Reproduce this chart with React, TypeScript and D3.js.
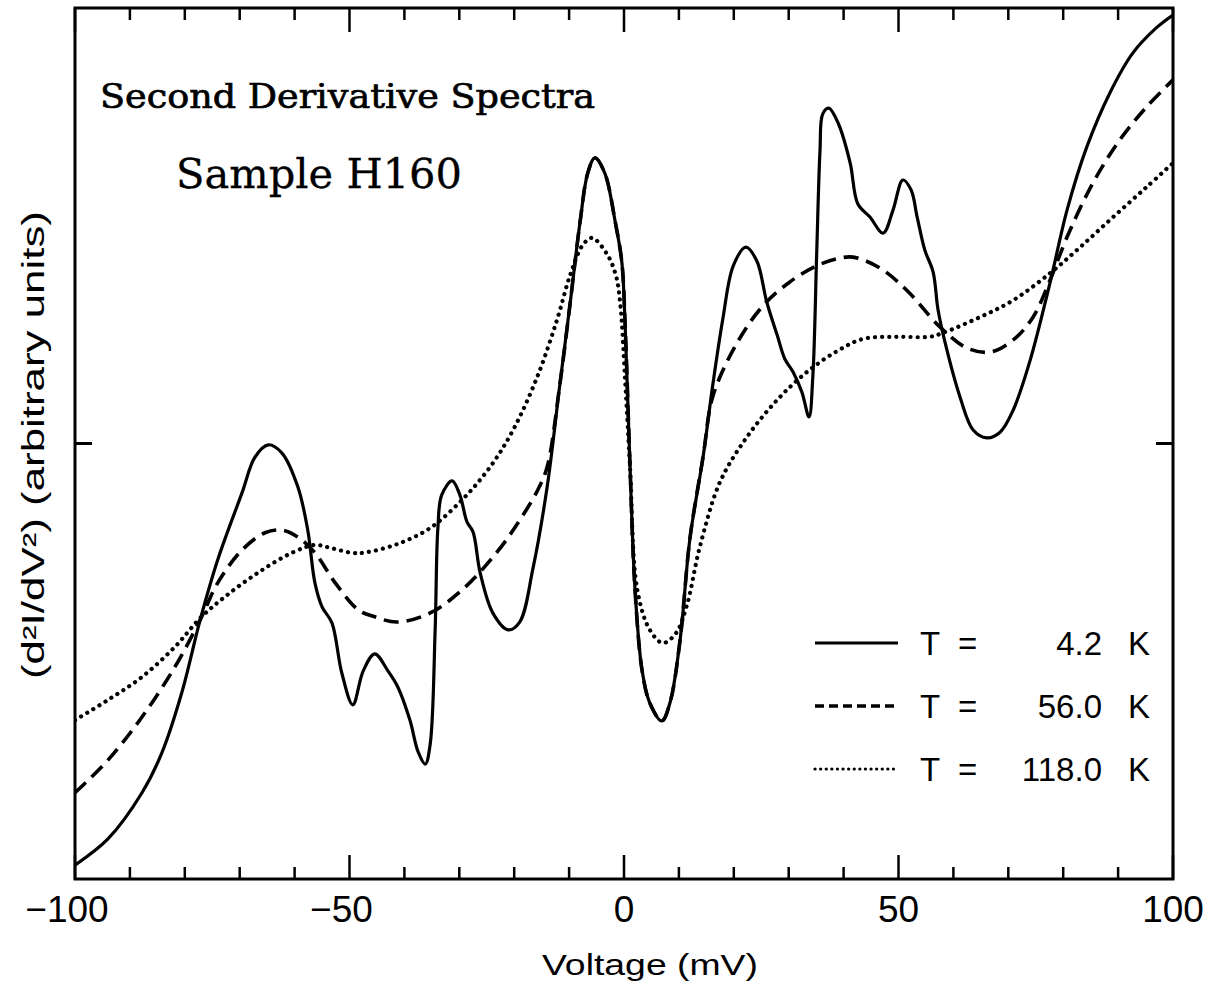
import React from 'react';
import * as d3 from 'd3';

// ---- Data (voltage in mV, d2I/dV2 in arbitrary units) ----
const solidV = [-100, -94, -87.8, -84.2, -80.5, -77.2, -74, -69.6, -67.2, -64.8, -62.3, -59.4, -57.6, -56.3, -55, -53.2, -51.4, -49.4, -47.5, -45.4, -43, -41.2, -39, -37.5, -36.2, -35.3, -34.4, -33.9, -33.2, -31.3, -29.9, -28.6, -27.5, -26.2, -23.9, -21.1, -19, -16.6, -14, -11.7, -9.8, -8, -6.6, -5.3, -3.5, -1.6, -0.4, 0.2, 1.1, 2, 3.3, 4.7, 6.9, 8.4, 10.2, 12, 14.4, 16.2, 18, 19.9, 22.2, 24.2, 26, 27.9, 29.3, 30.8, 32.4, 33.7, 34.4, 35.1, 35.7, 36.2, 37.3, 39, 41.2, 42.6, 44.8, 47.2, 49, 50.8, 52.3, 53.4, 54.8, 56.3, 57.2, 58.5, 61.2, 63.6, 66.1, 68.5, 70.9, 74, 77.6, 80.7, 84.3, 88.5, 92.7, 97.1, 100];
const solidY = [-96.8, -90.8, -80.2, -71.1, -57.0, -40.5, -26.7, -11.4, -3.1, -0.3, -2.2, -10.0, -19.9, -32.0, -37.5, -41.2, -52.7, -60.0, -52.2, -48.3, -52.2, -55.9, -63.5, -70.8, -73.6, -69.0, -42.8, -19.4, -11.8, -8.6, -11.8, -18.0, -20.3, -29.7, -38.9, -42.8, -41.0, -28.8, -10.0, 13.4, 32.3, 50.9, 62.1, 65.6, 62.1, 50.9, 41.7, 27.4, -5.4, -33.4, -52.2, -59.6, -63.7, -59.4, -45.3, -21.9, -3.1, 13.7, 28.6, 40.8, 45.1, 41.9, 32.5, 24.9, 19.4, 16.4, 11.8, 6.1, 15.5, 43.7, 67.2, 75.7, 77.0, 73.6, 64.4, 55.0, 52.0, 48.3, 53.6, 60.5, 58.2, 52.0, 44.4, 39.4, 30.7, 23.1, 10.7, 3.1, 1.3, 2.6, 7.7, 19.2, 36.9, 53.6, 68.1, 80.5, 89.7, 95.6, 98.4];

const dashedV = [-100, -94, -87.8, -81.8, -77.2, -74, -69.6, -65.4, -62.3, -59.4, -56.3, -52.6, -48.4, -45.4, -41.3, -35.3, -29.3, -23.1, -19, -15.8, -14, -11.7, -9.8, -8, -6.6, -5.3, -3.5, -1.6, -0.4, 0.2, 1.1, 2, 3.3, 4.7, 6.9, 8.4, 10.2, 12, 14.4, 16.2, 20.6, 25.3, 30.2, 35.1, 38.8, 41.7, 46.6, 51.5, 57.6, 62.5, 66.7, 70.9, 74.5, 77.6, 80.7, 85.4, 90.3, 95.2, 100];
const dashedY = [-80.2, -72.7, -62.8, -51.3, -40.5, -32.0, -24.5, -20.5, -19.9, -21.5, -25.1, -32.0, -38.2, -39.8, -41.0, -38.9, -33.4, -24.9, -17.6, -10.9, -5.4, 13.4, 32.3, 50.9, 62.1, 65.6, 62.1, 50.9, 41.7, 27.4, -5.4, -33.4, -52.2, -59.6, -63.7, -59.4, -45.3, -21.9, -3.1, 10.9, 23.1, 31.6, 37.1, 40.8, 42.4, 42.8, 40.3, 35.2, 26.7, 21.9, 21.0, 23.8, 29.0, 37.5, 47.4, 59.8, 69.7, 77.3, 83.5];

const dottedV = [-100, -94, -87.8, -81.8, -77.2, -72.7, -66.7, -60.5, -56.3, -54, -49.6, -47.5, -41.3, -35.3, -29.3, -24.4, -20.2, -15.8, -12.2, -9.8, -7.5, -5.8, -3.1, -1.5, -0.7, 0.2, 1.1, 2.4, 4.7, 7.1, 9.5, 11.5, 13.8, 17.5, 22.4, 27.9, 33.3, 38.8, 43.5, 49.7, 55.7, 58.1, 64.8, 70.9, 77.6, 83.1, 89.1, 95.2, 100];
const dottedY = [-63.5, -58.9, -53.6, -46.7, -40.1, -35.2, -29.7, -25.1, -23.3, -23.8, -25.1, -25.1, -23.1, -19.4, -12.7, -5.4, 3.1, 15.3, 28.4, 38.7, 45.6, 47.2, 43.5, 38.7, 32.3, 14.6, -5.4, -33.4, -42.8, -45.8, -43.5, -36.9, -23.8, -8.8, 1.5, 10.0, 16.4, 21.2, 24.0, 24.5, 24.5, 25.4, 29.0, 32.9, 39.1, 45.1, 52.0, 58.9, 64.4];

const xTicks = [-100, -90, -80, -70, -60, -50, -40, -30, -20, -10, 0, 10, 20, 30, 40, 50, 60, 70, 80, 90, 100];
const xMajor = [-100, -50, 0, 50, 100];
const legendLabels = ['4.2', '56.0', '118.0'];

const W = 1227, H = 988;
const L = 75, R = 1173, T = 8, B = 879;

export default function App() {
  const x = d3.scaleLinear().domain([-100, 100]).range([L, R]);
  const y = d3.scaleLinear().domain([-100, 100]).range([B, T]);
  const line = d3.line<[number, number]>().x(d => x(d[0])).y(d => y(d[1])).curve(d3.curveCatmullRom.alpha(0.5));
  const series = [
    { v: solidV, y: solidY, dash: undefined as string | undefined, lw: 3.2 },
    { v: dashedV, y: dashedY, dash: '15 8', lw: 3.6 },
    { v: dottedV, y: dottedY, dash: '0.1 7', lw: 4.2 },
  ];
  const legendDash = [undefined, '9 5', '0.1 5.5'];
  const legendLw = [3.2, 3.4, 3.2];
  const sans = '"Liberation Sans", Arial, sans-serif';
  return (
    <svg width={W} height={H} style={{ position: 'absolute', left: 0, top: 0, background: '#fff' }}>
      <defs>
        <clipPath id="plotclip"><rect x={L} y={T} width={R - L} height={B - T} /></clipPath>
      </defs>
      <rect x={0} y={0} width={W} height={H} fill="#fff" />
      <g clipPath="url(#plotclip)">
        {series.map((s, i) => (
          <path key={i} d={line(s.v.map((v, j) => [v, s.y[j]] as [number, number])) || ''}
            fill="none" stroke="#000" strokeWidth={s.lw} strokeDasharray={s.dash}
            strokeLinecap={s.dash && s.dash.startsWith('0.1') ? 'round' : 'butt'} strokeLinejoin="round" />
        ))}
      </g>
      {/* frame */}
      <rect x={L} y={T} width={R - L} height={B - T} fill="none" stroke="#000" strokeWidth={3} />
      {/* x ticks */}
      {xTicks.map(t => {
        const len = xMajor.includes(t) ? 24 : 12;
        return (
          <g key={t}>
            <line x1={x(t)} x2={x(t)} y1={B} y2={B - len} stroke="#000" strokeWidth={2.5} />
            <line x1={x(t)} x2={x(t)} y1={T} y2={T + len} stroke="#000" strokeWidth={2.5} />
          </g>
        );
      })}
      {/* y ticks */}
      <line x1={L} x2={L + 17} y1={y(0)} y2={y(0)} stroke="#000" strokeWidth={3} />
      <line x1={R} x2={R - 17} y1={y(0)} y2={y(0)} stroke="#000" strokeWidth={3} />
      {/* tick labels */}
      {xMajor.map(t => (
        <text key={t} x={x(t) + (t < 0 ? -8 : 0)} y={922} textAnchor="middle" fontFamily={sans} fontSize={37}>
          {t < 0 ? '\u2212' + Math.abs(t) : String(t)}
        </text>
      ))}
      <text x={650} y={975} textAnchor="middle" fontFamily={sans} fontSize={30} textLength={216} lengthAdjust="spacingAndGlyphs">Voltage  (mV)</text>
      <text transform={`translate(44,${445}) rotate(-90)`} textAnchor="middle" fontFamily={sans} fontSize={31} textLength={468} lengthAdjust="spacingAndGlyphs">(d²I/dV²)  (arbitrary units)</text>
      {/* titles */}
      <text x={100} y={108} fontFamily='"DejaVu Serif", serif' fontSize={34} stroke="#000" strokeWidth={0.7} textLength={495} lengthAdjust="spacingAndGlyphs">Second Derivative Spectra</text>
      <text x={176} y={188} fontFamily='"DejaVu Serif", serif' fontSize={41} stroke="#000" strokeWidth={0.3} textLength={286} lengthAdjust="spacingAndGlyphs">Sample H160</text>
      {/* legend */}
      {legendLabels.map((lab, i) => {
        const ry = 643 + i * 63;
        return (
          <g key={lab}>
            <line x1={815} x2={898} y1={ry} y2={ry} stroke="#000" strokeWidth={legendLw[i]} strokeDasharray={legendDash[i]} strokeLinecap={i === 2 ? 'round' : 'butt'} />
            <text x={920} y={ry + 12} fontFamily={sans} fontSize={33}>T</text>
            <text x={958} y={ry + 12} fontFamily={sans} fontSize={33}>=</text>
            <text x={1102} y={ry + 12} textAnchor="end" fontFamily={sans} fontSize={33}>{lab}</text>
            <text x={1128} y={ry + 12} fontFamily={sans} fontSize={33}>K</text>
          </g>
        );
      })}
    </svg>
  );
}
